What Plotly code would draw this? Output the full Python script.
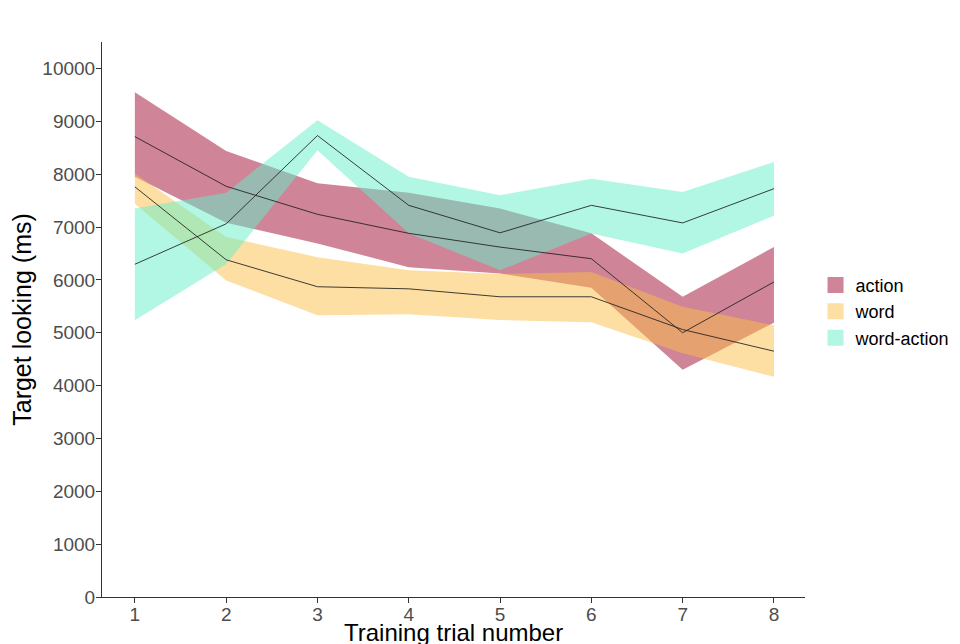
import plotly.graph_objects as go

trials = [1, 2, 3, 4, 5, 6, 7, 8]
y_ticks = [0, 1000, 2000, 3000, 4000, 5000, 6000, 7000, 8000, 9000, 10000]

action_mean = [8710, 7770, 7240, 6880, 6620, 6400, 5000, 5960]
action_upper = [9550, 8440, 7830, 7650, 7350, 6880, 5680, 6620]
action_lower = [7950, 7080, 6690, 6240, 6120, 5850, 4300, 5190]

word_mean = [7760, 6380, 5870, 5830, 5680, 5680, 5060, 4650]
word_upper = [8010, 6810, 6430, 6180, 6110, 6150, 5490, 5140]
word_lower = [7440, 5990, 5330, 5350, 5240, 5200, 4610, 4165]

wa_mean = [6295, 7060, 8730, 7410, 6890, 7410, 7077, 7725]
wa_upper = [7350, 7650, 9020, 7950, 7600, 7915, 7660, 8230]
wa_lower = [5236, 6300, 8450, 6880, 6180, 6875, 6500, 7215]

series = [
    ("action", action_mean, action_upper, action_lower, "rgba(160,10,50,0.5)"),
    ("word", word_mean, word_upper, word_lower, "rgba(252,190,72,0.5)"),
    ("word-action", wa_mean, wa_upper, wa_lower, "rgba(100,240,200,0.5)"),
]

FONT = "Liberation Sans, Arial, sans-serif"

fig = go.Figure()
for name, m, up, lo, col in series:
    fig.add_trace(go.Scatter(x=trials, y=up, mode="lines", line=dict(width=0),
                             showlegend=False, hoverinfo="skip", legendgroup=name))
    fig.add_trace(go.Scatter(x=trials, y=lo, mode="lines", line=dict(width=0),
                             fill="tonexty", fillcolor=col, name=name,
                             showlegend=False, legendgroup=name))
for name, m, up, lo, col in series:
    fig.add_trace(go.Scatter(x=trials, y=m, mode="lines",
                             line=dict(color="rgba(30,30,30,0.85)", width=1),
                             showlegend=False, legendgroup=name))
# legend swatches (square keys like the original)
for name, m, up, lo, col in series:
    fig.add_trace(go.Scatter(x=[None], y=[None], mode="markers", name=name,
                             marker=dict(symbol="square", size=18, color=col,
                                         line=dict(width=0)),
                             legendgroup=name, showlegend=True))

axis_common = dict(showgrid=False, zeroline=False, showline=True, linecolor="#333333",
                   linewidth=1, ticks="outside", ticklen=5, tickcolor="#333333",
                   automargin=False,
                   tickfont=dict(family=FONT, size=19, color="#4d4d4d"))

# the page body adds an 8px offset; margins compensate so the panel sits where the original's does
fig.update_layout(
    width=960, height=644,
    margin=dict(l=94, r=160, t=34, b=55),
    plot_bgcolor="white", paper_bgcolor="white",
    xaxis=dict(range=[0.64, 8.34], tickvals=trials, ticktext=[str(t) for t in trials],
               ticklabelstandoff=-5,
               **axis_common),
    yaxis=dict(range=[0, 10500], tickvals=y_ticks, ticktext=[str(v) for v in y_ticks],
               ticklabelstandoff=-3,
               title=dict(text="Target looking (ms)", standoff=6,
                          font=dict(family=FONT, size=25, color="black")),
               **axis_common),
    legend=dict(x=1.015, y=0.514, xanchor="left", yanchor="middle",
                font=dict(family=FONT, size=18, color="black"),
                itemsizing="trace", tracegroupgap=0, bgcolor="rgba(0,0,0,0)"),
    showlegend=True,
)

# x-axis title placed directly below the tick labels, as in the original
fig.add_annotation(text="Training trial number", xref="paper", yref="paper",
                   x=0.5, y=-0.036, xanchor="center", yanchor="top", showarrow=False,
                   font=dict(family=FONT, size=24, color="black"))

fig.write_html("out.html")
